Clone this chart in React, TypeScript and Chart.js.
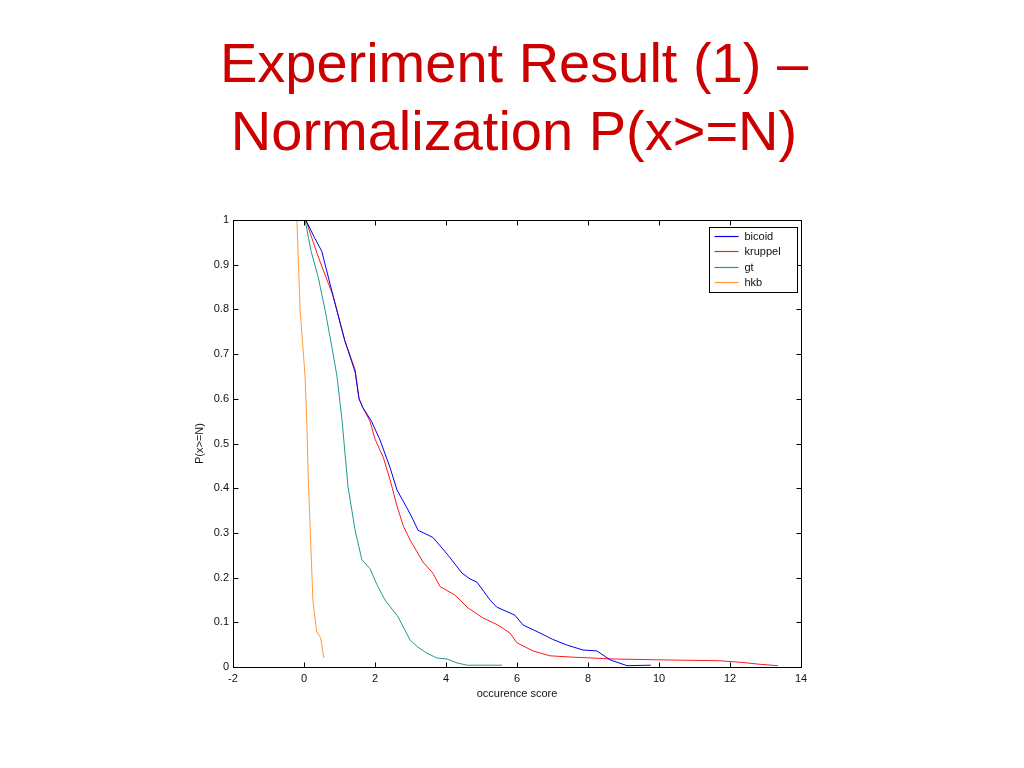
import React, { useEffect, useRef } from "react";
import { Chart, registerables } from "chart.js";

Chart.register(...registerables);

// ---------- text ----------
const titleLines = ["Experiment Result (1) –", "Normalization P(x>=N)"];
const xAxisTitle = "occurence score";
const yAxisTitle = "P(x>=N)";
const seriesNames = ["bicoid", "kruppel", "gt", "hkb"];

// ---------- axes ----------
const xMin = -2;
const xMax = 14;
const xStep = 2;
const yMin = 0;
const yMax = 1;
const yStep = 0.1;

// ---------- series (x = occurence score, y = P(x>=N)) ----------
const bicoidX = [0.05, 0.3, 0.5, 0.82, 1.15, 1.44, 1.55, 1.66, 1.9, 2.14, 2.42, 2.62, 2.9, 3.07, 3.21, 3.63, 4.06, 4.45, 4.68, 4.87, 5.24, 5.43, 5.94, 6.17, 6.65, 7.0, 7.41, 7.86, 8.25, 8.62, 9.1, 9.77];
const bicoidY = [1.0, 0.96, 0.93, 0.83, 0.73, 0.66, 0.6, 0.58, 0.55, 0.508, 0.447, 0.396, 0.356, 0.33, 0.306, 0.29, 0.25, 0.21, 0.197, 0.19, 0.15, 0.134, 0.116, 0.094, 0.076, 0.062, 0.049, 0.038, 0.036, 0.016, 0.003, 0.004];

const kruppelX = [0.05, 0.39, 0.82, 1.15, 1.44, 1.55, 1.66, 1.86, 2.0, 2.14, 2.23, 2.42, 2.62, 2.8, 2.99, 3.35, 3.63, 3.83, 4.25, 4.62, 5.04, 5.46, 5.8, 6.0, 6.45, 6.93, 7.58, 8.7, 10.03, 11.7, 12.37, 12.85, 13.35];
const kruppelY = [1.0, 0.92, 0.83, 0.73, 0.665, 0.6, 0.58, 0.55, 0.51, 0.485, 0.47, 0.42, 0.36, 0.315, 0.284, 0.235, 0.21, 0.18, 0.161, 0.132, 0.11, 0.094, 0.076, 0.054, 0.036, 0.025, 0.022, 0.018, 0.016, 0.014, 0.01, 0.006, 0.003];

const gtX = [0.03, 0.2, 0.4, 0.59, 0.79, 0.93, 1.07, 1.24, 1.44, 1.63, 1.86, 2.05, 2.28, 2.65, 2.99, 3.2, 3.46, 3.75, 4.03, 4.31, 4.6, 5.58];
const gtY = [1.0, 0.93, 0.872, 0.8, 0.714, 0.65, 0.553, 0.403, 0.306, 0.24, 0.22, 0.185, 0.15, 0.112, 0.06, 0.045, 0.031, 0.02, 0.018, 0.009, 0.004, 0.004];

const hkbX = [-0.2, -0.11, -0.04, 0.03, 0.08, 0.12, 0.19, 0.25, 0.28, 0.36, 0.47, 0.56];
const hkbY = [1.0, 0.8, 0.725, 0.65, 0.546, 0.425, 0.277, 0.15, 0.128, 0.079, 0.065, 0.02];

const seriesColors = ["#0000ee", "#ff1a1a", "#1f9a92", "#ff9a3c"];

const FONT = "'Liberation Sans', Arial, Helvetica, sans-serif";

function toPoints(xs: number[], ys: number[]) {
  return xs.map((x, i) => ({ x, y: ys[i] }));
}

const framePlugin = {
  id: "matlabFrame",
  afterDatasetsDraw(chart: any) {
    const { ctx, chartArea: a, scales } = chart;
    ctx.save();
    ctx.strokeStyle = "#000";
    ctx.lineWidth = 1;
    const L = Math.round(a.left) + 0.5;
    const R = Math.round(a.right) + 0.5;
    const T = Math.round(a.top) + 0.5;
    const B = Math.round(a.bottom) + 0.5;
    ctx.strokeRect(L, T, R - L, B - T);
    const tl = 5;
    ctx.beginPath();
    for (const t of scales.x.ticks) {
      const px = Math.round(scales.x.getPixelForValue(t.value)) + 0.5;
      ctx.moveTo(px, B);
      ctx.lineTo(px, B - tl);
      ctx.moveTo(px, T);
      ctx.lineTo(px, T + tl);
    }
    for (const t of scales.y.ticks) {
      const py = Math.round(scales.y.getPixelForValue(t.value)) + 0.5;
      ctx.moveTo(L, py);
      ctx.lineTo(L + tl, py);
      ctx.moveTo(R, py);
      ctx.lineTo(R - tl, py);
    }
    ctx.stroke();

    // legend box
    ctx.font = `11px ${FONT}`;
    const ds = chart.data.datasets;
    let maxW = 0;
    for (const d of ds) maxW = Math.max(maxW, ctx.measureText(d.label).width);
    const boxW = Math.round(35 + maxW + 17);
    const rowH = 15.5;
    const boxH = Math.round(rowH * ds.length + 3);
    const bx = Math.round(a.right) - 4 - boxW + 0.5;
    const by = Math.round(a.top) + 7 + 0.5;
    ctx.fillStyle = "#fff";
    ctx.fillRect(bx, by, boxW, boxH);
    ctx.strokeStyle = "#000";
    ctx.strokeRect(bx, by, boxW, boxH);
    ds.forEach((d: any, i: number) => {
      const y = Math.round(by + 8 + i * rowH) + 0.5;
      ctx.strokeStyle = d.borderColor;
      ctx.lineWidth = 1.2;
      ctx.beginPath();
      ctx.moveTo(bx + 5, y);
      ctx.lineTo(bx + 29, y);
      ctx.stroke();
      ctx.fillStyle = "#111";
      ctx.textBaseline = "middle";
      ctx.textAlign = "left";
      ctx.fillText(d.label, bx + 35, y);
    });
    ctx.restore();
  },
};

export default function App() {
  const canvasRef = useRef<HTMLCanvasElement | null>(null);

  useEffect(() => {
    if (!canvasRef.current) return;
    const allX = [bicoidX, kruppelX, gtX, hkbX];
    const allY = [bicoidY, kruppelY, gtY, hkbY];
    const chart = new Chart(canvasRef.current, {
      type: "line",
      data: {
        datasets: seriesNames.map((name, i) => ({
          label: name,
          data: toPoints(allX[i], allY[i]),
          borderColor: seriesColors[i],
          backgroundColor: seriesColors[i],
          borderWidth: 1,
          pointRadius: 0,
          tension: 0,
          fill: false,
        })),
      },
      options: {
        responsive: false,
        animation: false,
        devicePixelRatio: 1,
        layout: { padding: { left: 190, right: 223, top: 220, bottom: 66 } },
        plugins: {
          legend: { display: false },
          title: { display: false },
          tooltip: { enabled: false },
        },
        scales: {
          x: {
            type: "linear",
            min: xMin,
            max: xMax,
            grid: { display: false, drawTicks: false },
            border: { display: false },
            ticks: {
              stepSize: xStep,
              padding: 5,
              color: "#111",
              font: { family: FONT, size: 11 },
              maxRotation: 0,
            },
            title: {
              display: true,
              text: xAxisTitle,
              color: "#111",
              font: { family: FONT, size: 11 },
              padding: { top: 0, bottom: 1 },
            },
            afterFit(scale: any) {
              scale.height = 35;
              scale.paddingLeft = 0;
              scale.paddingRight = 0;
            },
          },
          y: {
            type: "linear",
            min: yMin,
            max: yMax,
            grid: { display: false, drawTicks: false },
            border: { display: false },
            ticks: {
              stepSize: yStep,
              padding: 4,
              color: "#111",
              font: { family: FONT, size: 11 },
              callback: (v: any) => String(Number(Number(v).toFixed(1))),
            },
            title: {
              display: true,
              text: yAxisTitle,
              color: "#111",
              font: { family: FONT, size: 11 },
              padding: { top: 3, bottom: 0 },
            },
            afterFit(scale: any) {
              scale.width = 43;
              scale.paddingTop = 0;
              scale.paddingBottom = 0;
            },
          },
        },
      },
      plugins: [framePlugin],
    });
    return () => chart.destroy();
  }, []);

  return (
    <div style={{ position: "absolute", left: 0, top: 0, width: 1024, height: 768, background: "#fff" }}>
      <div
        style={{
          position: "absolute",
          left: 2,
          top: 29,
          width: 1024,
          textAlign: "center",
          color: "#cc0000",
          fontFamily: FONT,
          fontSize: 56,
          lineHeight: "68px",
          whiteSpace: "nowrap",
        }}
      >
        {titleLines.map((l, i) => (
          <div key={i}>{l}</div>
        ))}
      </div>
      <canvas
        ref={canvasRef}
        width={1024}
        height={768}
        style={{ position: "absolute", left: 0, top: 0, width: 1024, height: 768 }}
      />
    </div>
  );
}
